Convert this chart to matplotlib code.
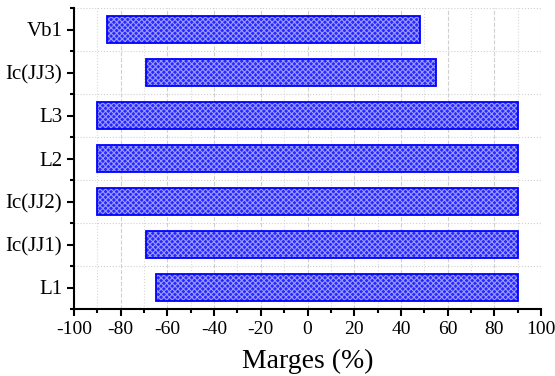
"""
Horizontal bar chart of margins per parameter
"""
import matplotlib
matplotlib.use('Agg')
import matplotlib.pyplot as plt
import numpy as np
from matplotlib.ticker import MultipleLocator, FixedLocator

# Data
labels = ['L1', 'Ic(JJ1)', 'Ic(JJ2)', 'L2', 'L3', 'Ic(JJ3)', 'Vb1']
low = [-65, -69, -90, -90, -90, -69, -86]
high = [90, 90, 90, 90, 90, 55, 48]

plt.rcParams['font.family'] = ['Liberation Serif', 'DejaVu Serif']
plt.rcParams['hatch.linewidth'] = 0.8

fig = plt.figure(figsize=(5.55, 3.76), dpi=100)
ax = fig.add_axes([74 / 555, 1 - 309 / 376, 467 / 555, 301 / 376])

y = np.arange(len(labels))
widths = np.array(high) - np.array(low)

# Base blue bar, then light hatch overlay, then outline
ax.barh(y, widths, left=low, height=0.62, color='#2828ff', edgecolor='none', zorder=2)
ax.barh(y, widths, left=low, height=0.62, facecolor='none', edgecolor='#9a9aff',
        hatch='xxxxxx', linewidth=0, zorder=3)
ax.barh(y, widths, left=low, height=0.62, facecolor='none', edgecolor='#0000ff',
        linewidth=1.3, zorder=4)

ax.set_xlim(-100, 100)
ax.set_ylim(-0.5, len(labels) - 0.5)
ax.set_yticks(y)
ax.set_yticklabels(labels)
ax.yaxis.set_minor_locator(FixedLocator(np.arange(-0.5, len(labels), 1.0)))
ax.xaxis.set_minor_locator(MultipleLocator(10))
ax.set_xticks(np.arange(-100, 101, 20))
ax.set_xticklabels([str(v) for v in range(-100, 101, 20)])

# Grid
ax.grid(True, which='major', axis='x', linestyle='--', color='#d0d0d0', linewidth=0.8, zorder=0)
ax.grid(True, which='minor', axis='x', linestyle=':', color='#d8d8d8', linewidth=0.8, zorder=0)
ax.grid(True, which='minor', axis='y', linestyle=':', color='#d0d0d0', linewidth=0.8, zorder=0)
ax.set_axisbelow(True)

# Spines
for s in ['top', 'right']:
    ax.spines[s].set_visible(False)
for s in ['left', 'bottom']:
    ax.spines[s].set_linewidth(1.5)

ax.tick_params(which='major', direction='out', length=5, width=1.5, labelsize=15)
ax.tick_params(which='minor', direction='out', length=3, width=1.5)
ax.tick_params(axis='x', labelsize=14)

ax.set_xlabel('Marges (%)', fontsize=20, labelpad=8)

plt.savefig('out.png', dpi=100)
